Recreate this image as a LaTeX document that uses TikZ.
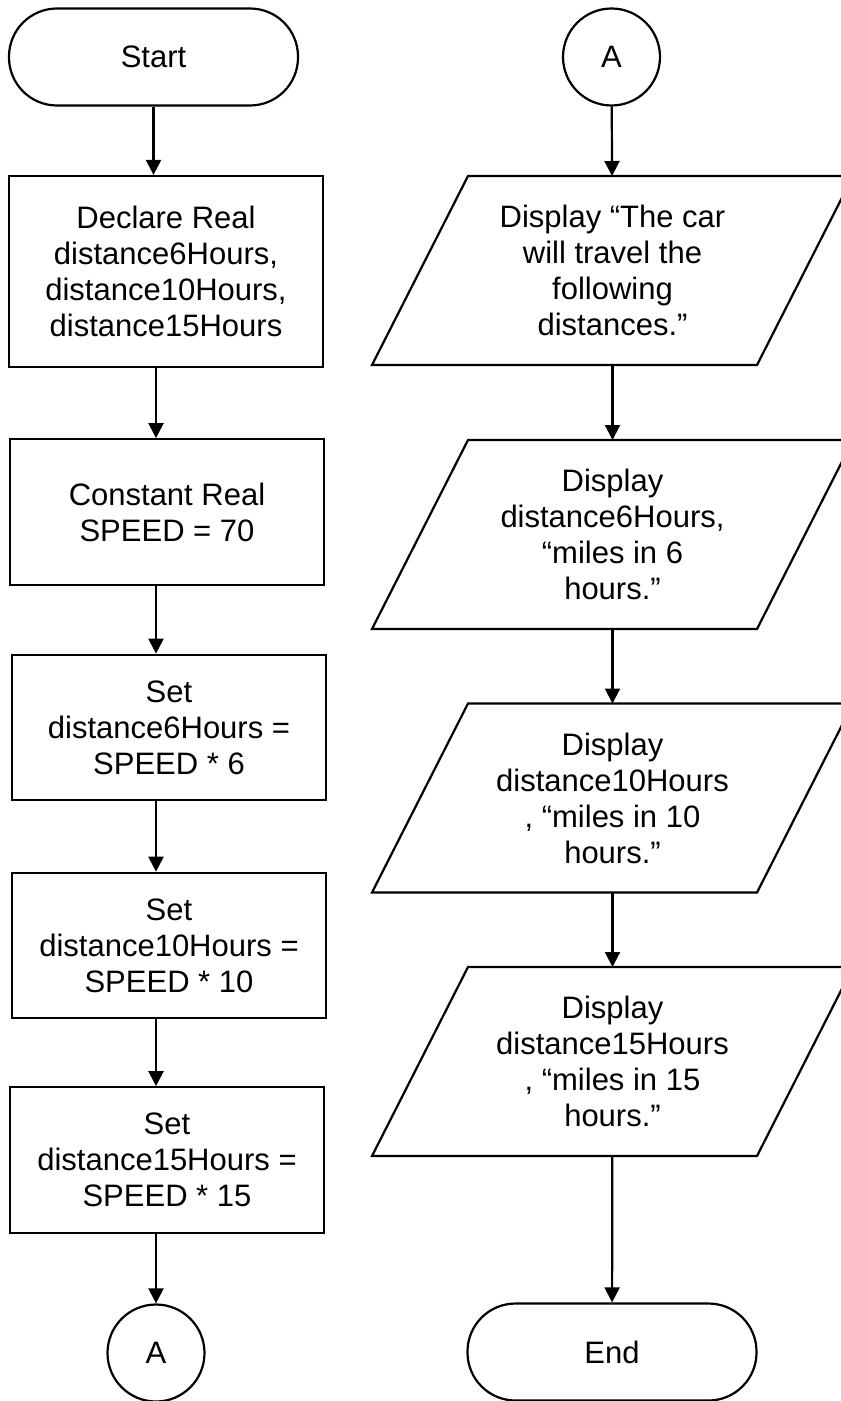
\documentclass[tikz,border=0pt]{standalone}
\usepackage{fontspec}
\setmainfont{Liberation Sans}
\usetikzlibrary{arrows.meta}

\begin{document}
\begin{tikzpicture}[x=0.5pt,y=-0.5pt,>={Triangle[length=7.5pt,width=7.5pt]},line width=1.1pt,
  every node/.style={font=\fontsize{15.5pt}{18pt}\selectfont,align=center},
  term/.style={draw,rectangle,rounded corners=24pt,minimum width=144.5pt,minimum height=48.5pt},
  conn/.style={draw,circle,minimum size=48.5pt,inner sep=0pt},
  proc/.style={draw,rectangle,minimum width=157pt,minimum height=#1},
  proc/.default=72.75pt,
  io/.style={rectangle,outer sep=0pt,minimum width=192.5pt,minimum height=94.5pt}]
  \useasboundingbox (0,0) rectangle (840,1401);

  % left column
  \node[term] (start) at (153.5,57) {Start};
  \node[proc=95.5pt] (decl) at (166,271.5) {Declare Real\\distance6Hours,\\distance10Hours,\\distance15Hours};
  \node[proc] (const) at (167,512) {Constant Real\\SPEED = 70};
  \node[proc] (set6) at (169,727.5) {Set\\distance6Hours =\\SPEED * 6};
  \node[proc] (set10) at (169,945.5) {Set\\distance10Hours =\\SPEED * 10};
  \node[proc] (set15) at (167,1160) {Set\\distance15Hours =\\SPEED * 15};
  \node[conn] (aout) at (156,1353) {A};

  % right column
  \node[conn] (ain) at (611.5,57) {A};
  \node[io] (show) at (612.5,270.5) {Display “The car\\will travel the\\following\\distances.”};
  \node[io] (show6) at (612.5,534.5) {Display\\distance6Hours,\\“miles in 6\\hours.”};
  \node[io] (show10) at (612.5,798) {Display\\distance10Hours\\, “miles in 10\\hours.”};
  \node[io] (show15) at (612.5,1061.5) {Display\\distance15Hours\\, “miles in 15\\hours.”};
  \node[term] (end) at (612,1352) {End};
  \foreach \n in {show,show6,show10,show15}
    \draw ([xshift=24pt]\n.north west) -- ([xshift=24pt]\n.north east)
      -- ([xshift=-24pt]\n.south east) -- ([xshift=-24pt]\n.south west) -- cycle;

  % connectors
  \draw[->] (start) -- (start |- decl.north);
  \draw[->] (aout |- decl.south) -- (aout |- const.north);
  \draw[->] (aout |- const.south) -- (aout |- set6.north);
  \draw[->] (aout |- set6.south) -- (aout |- set10.north);
  \draw[->] (aout |- set10.south) -- (aout |- set15.north);
  \draw[->] (aout |- set15.south) -- (aout);
  \draw[->] (ain) -- (show);
  \draw[->] (show) -- (show6);
  \draw[->] (show6) -- (show10);
  \draw[->] (show10) -- (show15);
  \draw[->] (show15) -- (end);
\end{tikzpicture}
\end{document}
